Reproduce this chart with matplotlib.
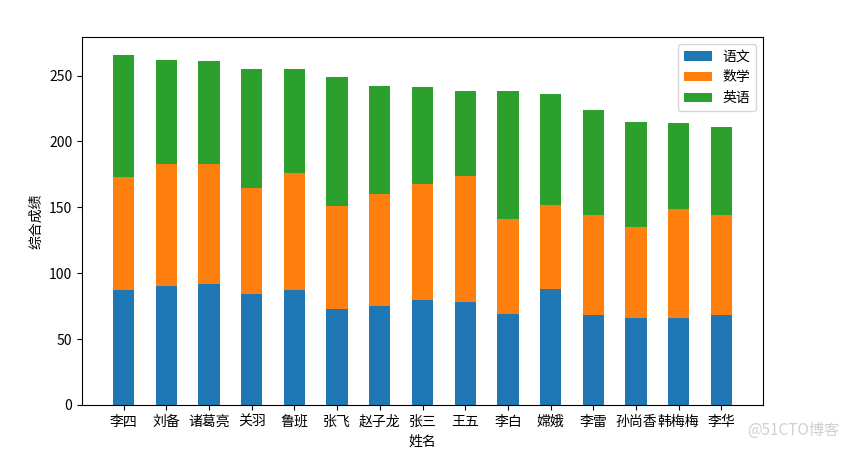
import matplotlib
matplotlib.use("Agg")
import matplotlib.pyplot as plt
import numpy as np

plt.rcParams['font.family'] = ['Noto Sans CJK SC', 'DejaVu Sans']
plt.rcParams['axes.unicode_minus'] = False

names = ['李四', '刘备', '诸葛亮', '关羽', '鲁班', '张飞', '赵子龙', '张三',
         '王五', '李白', '嫦娥', '李雷', '孙尚香', '韩梅梅', '李华']
chinese = [87, 90, 92, 84, 87, 73, 75, 80, 78, 69, 88, 68, 66, 66, 68]
math = [86, 93, 91, 81, 89, 78, 85, 88, 96, 72, 64, 76, 69, 83, 76]
english = [93, 79, 78, 90, 79, 98, 82, 73, 64, 97, 84, 80, 80, 65, 67]
series_labels = ['语文', '数学', '英语']

fig = plt.figure(figsize=(8.44, 4.51), dpi=100)
ax = fig.add_axes([82/844, 1-405/451, (763-82)/844, (405-37)/451])

x = np.arange(len(names))
c = np.array(chinese)
m = np.array(math)
e = np.array(english)
ax.bar(x, c, width=0.5, color='#1f77b4', label=series_labels[0])
ax.bar(x, m, width=0.5, bottom=c, color='#ff7f0e', label=series_labels[1])
ax.bar(x, e, width=0.5, bottom=c + m, color='#2ca02c', label=series_labels[2])

ax.set_xticks(x)
ax.set_xticklabels(names, fontsize=10)
ax.tick_params(axis='y', labelsize=10)
ax.set_xlabel('姓名', fontsize=10)
ax.set_ylabel('综合成绩', fontsize=10)
ax.legend(loc='upper right', fontsize=10)

fig.text(0.995, 0.045, '@51CTO博客', ha='right', va='center', color='#d0d0d0', fontsize=11)

fig.savefig('out.png', dpi=100)
